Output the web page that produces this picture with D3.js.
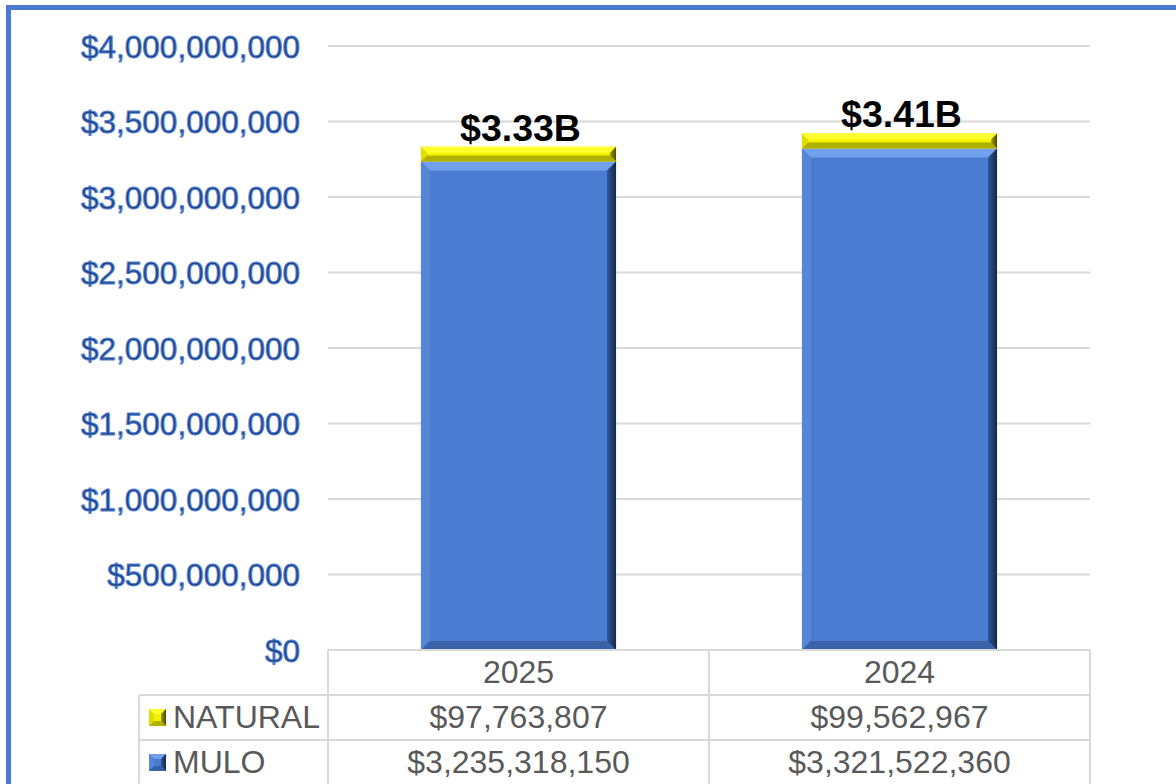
<!DOCTYPE html>
<html>
<head>
<meta charset="utf-8">
<script src="https://cdn.jsdelivr.net/npm/d3@7"></script>
<style>
  html, body { margin: 0; padding: 0; background: #fff; }
  svg { display: block; }
</style>
</head>
<body>
<svg id="chart" width="1176" height="784"></svg>
<script>
// Sales by channel, two years, stacked (MULO at the bottom, NATURAL on top)
const years = ["2025", "2024"];
const seriesNames = ["NATURAL", "MULO"];
const naturalValues = [97763807, 99562967];
const muloValues = [3235318150, 3321522360];
const totalLabels = ["$3.33B", "$3.41B"];
const yTicks = [0, 500000000, 1000000000, 1500000000, 2000000000, 2500000000, 3000000000, 3500000000, 4000000000];

const svg = d3.select("#chart");
const W = 1176, H = 784;

const plot = { left: 328, right: 1090, top: 46, bottom: 650 };
const rowH = 45;
const tableLeft = 139;
const FONT = "Arial, 'Liberation Sans', sans-serif";

const x = d3.scaleBand().domain(years).range([plot.left, plot.right]).padding(0);
const y = d3.scaleLinear().domain([0, 4000000000]).range([plot.bottom, plot.top]);
const barW = x.bandwidth() * 0.512;

const fmtMoney = d3.format("$,");

// palettes for the bevelled bars
const styles = {
  MULO: { face: "#4a7cd2", top: "#72a0ec", left: "#5686d8", bottom: "#3a62a8", rightA: "#2f5596", rightB: "#172848", bevel: 9 },
  NATURAL: { face: "#f4f400", top: "#ffff30", left: "#dede00", bottom: "#b0b000", rightA: "#9a9a00", rightB: "#4e4e00", bevel: 6 }
};

const defs = svg.append("defs");
Object.entries(styles).forEach(([k, s]) => {
  const g = defs.append("linearGradient").attr("id", "rg-" + k)
    .attr("x1", "0").attr("x2", "1").attr("y1", "0").attr("y2", "0");
  g.append("stop").attr("offset", "0").attr("stop-color", s.rightA);
  g.append("stop").attr("offset", "1").attr("stop-color", s.rightB);
});

function bevelRect(g, x0, y0, w, h, key, bevelMax) {
  const s = styles[key];
  const b = Math.min(bevelMax != null ? bevelMax : s.bevel, h / 2, w / 2);
  const x1 = x0 + w, y1 = y0 + h;
  g.append("rect").attr("x", x0).attr("y", y0).attr("width", w).attr("height", h).attr("fill", s.face);
  const poly = (pts, fill) => g.append("polygon").attr("points", pts.map(p => p.join(",")).join(" ")).attr("fill", fill);
  poly([[x0, y0], [x1, y0], [x1 - b, y0 + b], [x0 + b, y0 + b]], s.top);
  poly([[x0, y0], [x0 + b, y0 + b], [x0 + b, y1 - b], [x0, y1]], s.left);
  poly([[x0, y1], [x0 + b, y1 - b], [x1 - b, y1 - b], [x1, y1]], s.bottom);
  poly([[x1, y0], [x1, y1], [x1 - b, y1 - b], [x1 - b, y0 + b]], "url(#rg-" + key + ")");
}

// outer frame
svg.append("rect").attr("x", 8.5).attr("y", 7.5).attr("width", W + 40).attr("height", H + 40)
  .attr("fill", "none").attr("stroke", "#4a7bd0").attr("stroke-width", 5);

// gridlines
svg.append("g").selectAll("line").data(yTicks.filter(t => t > 0)).join("line")
  .attr("x1", plot.left).attr("x2", plot.right)
  .attr("y1", d => y(d)).attr("y2", d => y(d))
  .attr("stroke", "#d9d9d9").attr("stroke-width", 2);

// y axis labels: dark blue text with a light blue rim
const yAxis = d3.axisLeft(y).tickValues(yTicks).tickFormat(fmtMoney).tickSize(0).tickPadding(0);
const yg = svg.append("g").attr("transform", "translate(300,0)").call(yAxis);
yg.select(".domain").remove();
yg.selectAll("text")
  .attr("font-family", FONT).attr("font-size", 31.5).attr("dy", "0.36em")
  .attr("fill", "#1f3f82").attr("stroke", "#5585d6").attr("stroke-width", 1.0);

// stacked bars
const barsG = svg.append("g");
years.forEach((yr, i) => {
  const cx = x(yr) + x.bandwidth() / 2;
  const x0 = cx - barW / 2;
  const muloTop = y(muloValues[i]);
  bevelRect(barsG, x0, muloTop, barW, y(0) - muloTop, "MULO");
  const natTop = y(muloValues[i] + naturalValues[i]);
  bevelRect(barsG, x0, natTop, barW, muloTop - natTop, "NATURAL");
  barsG.append("text")
    .attr("x", cx + 2).attr("y", natTop - 6)
    .attr("text-anchor", "middle")
    .attr("font-family", FONT)
    .attr("font-weight", "bold")
    .attr("font-size", 37.5)
    .attr("fill", "#000")
    .text(totalLabels[i]);
});

// data table beneath the plot
const tg = svg.append("g");
const lineC = "#d9d9d9";
const hl = (x1, x2, yy) => tg.append("line").attr("x1", x1).attr("x2", x2).attr("y1", yy).attr("y2", yy).attr("stroke", lineC).attr("stroke-width", 2);
const vl = (xx, y1, y2) => tg.append("line").attr("x1", xx).attr("x2", xx).attr("y1", y1).attr("y2", y2).attr("stroke", lineC).attr("stroke-width", 2);

hl(plot.left, plot.right, plot.bottom);
hl(tableLeft, plot.right, plot.bottom + rowH);
hl(tableLeft, plot.right, plot.bottom + 2 * rowH);
vl(tableLeft, plot.bottom + rowH, H + 10);
years.forEach(yr => vl(x(yr), plot.bottom, H + 10));
vl(plot.right, plot.bottom, H + 10);

const cellText = (tx, ty, txt, anchor) => tg.append("text")
  .attr("x", tx).attr("y", ty)
  .attr("text-anchor", anchor || "middle")
  .attr("font-family", FONT)
  .attr("font-size", 32)
  .attr("fill", "#595959")
  .text(txt);

years.forEach(yr => cellText(x(yr) + x.bandwidth() / 2, plot.bottom + 33, yr));

const rows = [
  { name: seriesNames[0], vals: naturalValues },
  { name: seriesNames[1], vals: muloValues }
];
rows.forEach((r, ri) => {
  const rowTop = plot.bottom + (ri + 1) * rowH;
  const keyG = tg.append("g");
  bevelRect(keyG, 149, rowTop + 14, 17, 17, r.name, 5);
  cellText(173, rowTop + 33, r.name, "start");
  years.forEach((yr, i) => cellText(x(yr) + x.bandwidth() / 2, rowTop + 33, fmtMoney(r.vals[i])));
});
</script>
</body>
</html>
